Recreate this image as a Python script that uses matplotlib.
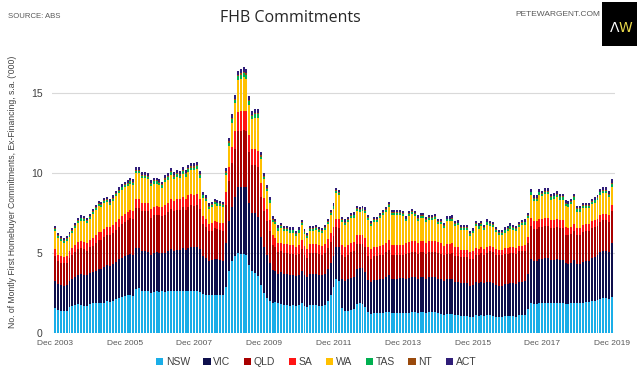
import numpy as np
import pandas as pd
import matplotlib
matplotlib.use("Agg")
import matplotlib.pyplot as plt
from matplotlib.patches import Patch

plt.rcParams['font.family'] = ['Liberation Sans', 'DejaVu Sans']

months = pd.period_range('2003-12', '2019-12', freq='M')
tick_labels = ["Dec 2003", "Dec 2005", "Dec 2007", "Dec 2009", "Dec 2011",
               "Dec 2013", "Dec 2015", "Dec 2017", "Dec 2019"]
series_names = ["NSW", "VIC", "QLD", "SA", "WA", "TAS", "NT", "ACT"]

NSW = [
1.55,1.45,1.4,1.4,1.4,1.65,1.7,1.75,1.8,1.75,1.7,1.7,1.8,
1.85,1.85,1.9,1.85,1.9,2.0,1.95,2.0,2.1,2.2,2.25,2.3,
2.35,2.4,2.3,2.75,2.8,2.6,2.6,2.6,2.5,2.55,2.6,2.55,2.6,
2.55,2.6,2.65,2.6,2.6,2.6,2.65,2.6,2.6,2.65,2.6,2.6,2.55,
2.45,2.4,2.35,2.35,2.4,2.4,2.35,2.35,
2.9,3.9,4.5,4.8,5.0,4.95,4.95,4.9,4.25,3.9,3.75,3.55,3.0,2.5,2.2,2.0,1.85,1.95,1.85,
1.8,1.75,1.75,1.7,1.75,1.7,1.75,1.85,1.7,1.65,1.75,1.75,1.75,1.7,1.7,1.75,2.0,2.4,2.9,3.35,3.25,
1.55,1.35,1.4,1.45,1.5,1.8,1.85,1.8,1.6,1.3,1.2,1.25,1.25,1.25,1.25,1.3,1.3,1.25,1.25,1.25,1.25,1.25,
1.25,1.25,1.3,1.3,1.25,1.3,1.3,1.25,1.3,1.3,1.3,1.25,1.2,1.15,1.2,1.2,1.2,1.1,1.1,1.05,1.05,1.05,1.0,1.0,1.1,
1.05,1.1,1.05,1.1,1.1,1.05,1.0,1.0,1.0,1.05,1.05,1.05,1.05,1.0,1.1,1.1,1.15,1.5,
1.85,1.8,1.8,1.85,1.85,1.9,1.9,1.85,1.85,1.85,1.85,1.85,1.8,1.8,1.85,1.9,1.85,1.85,1.9,1.95,1.95,2.0,2.0,2.05,2.15,2.2,2.2,2.15,2.25]

VIC = [
1.7,1.6,1.6,1.55,1.6,1.6,1.65,1.75,1.85,1.95,1.95,1.9,1.95,
1.95,2.0,2.1,2.15,2.2,2.25,2.25,2.3,2.35,2.4,2.45,2.5,
2.5,2.55,2.55,2.55,2.5,2.5,2.5,2.45,2.4,2.45,2.45,2.45,2.4,
2.45,2.5,2.6,2.55,2.6,2.6,2.65,2.6,2.7,2.75,2.75,2.8,2.7,
2.35,2.3,2.15,2.2,2.25,2.2,2.2,2.15,
2.7,3.1,3.4,3.7,4.1,4.15,4.2,4.2,3.9,3.6,3.75,3.7,3.0,2.85,2.7,2.4,2.1,1.9,1.85,
2.0,1.95,1.95,1.95,1.9,1.85,1.9,2.0,1.9,1.85,1.95,1.95,1.95,1.95,1.9,1.95,2.0,2.0,1.9,2.05,2.1,
1.85,1.9,1.95,2.0,2.0,2.2,2.2,2.25,2.2,2.0,2.0,2.05,2.05,2.1,2.15,2.2,2.3,2.15,2.15,2.15,2.2,2.2,
2.15,2.2,2.2,2.2,2.15,2.2,2.2,2.15,2.2,2.2,2.2,2.15,2.15,2.1,2.15,2.15,2.2,2.1,2.1,2.05,2.05,2.05,1.95,2.0,2.1,
2.05,2.1,2.05,2.1,2.1,2.1,2.0,1.95,1.95,2.0,2.0,2.05,2.05,2.05,2.1,2.1,2.1,2.2,
2.8,2.7,2.7,2.8,2.8,2.8,2.8,2.7,2.7,2.75,2.7,2.7,2.55,2.5,2.55,2.65,2.45,2.45,2.55,2.55,2.55,2.7,2.75,2.8,2.9,2.95,2.95,2.9,3.35]

QLD = [
1.55,1.45,1.4,1.4,1.4,1.45,1.5,1.55,1.6,1.6,1.6,1.55,1.6,
1.65,1.75,1.8,1.8,1.9,1.9,1.9,1.95,2.0,2.05,2.1,2.15,
2.2,2.25,2.3,2.5,2.5,2.5,2.5,2.55,2.3,2.35,2.35,2.35,2.3,
2.4,2.45,2.5,2.45,2.5,2.5,2.55,2.5,2.6,2.6,2.6,2.6,2.5,
2.0,1.95,1.85,1.85,1.9,1.9,1.9,1.9,
2.4,2.5,2.75,3.0,3.5,3.55,3.55,3.55,3.15,3.0,3.0,3.1,2.5,2.3,2.1,1.95,1.55,1.5,1.35,
1.3,1.3,1.3,1.3,1.3,1.3,1.3,1.4,1.3,1.2,1.3,1.3,1.3,1.3,1.3,1.3,1.3,1.3,1.25,1.2,1.2,
1.5,1.5,1.55,1.6,1.6,1.55,1.5,1.5,1.55,1.5,1.45,1.5,1.5,1.5,1.5,1.55,1.6,1.5,1.5,1.5,1.45,1.45,
1.55,1.55,1.55,1.55,1.55,1.55,1.55,1.55,1.55,1.55,1.55,1.6,1.6,1.6,1.6,1.6,1.6,1.6,1.6,1.65,1.65,1.65,1.65,1.65,1.65,
1.8,1.8,1.8,1.8,1.9,1.9,1.9,1.9,1.9,1.9,1.9,1.9,1.9,1.9,1.9,1.9,1.9,1.95,
2.05,2.0,2.0,2.0,2.0,2.0,2.0,2.0,2.0,2.0,2.0,2.0,1.8,1.8,1.8,1.8,1.8,1.8,1.85,1.85,1.85,1.85,1.85,1.85,1.9,1.9,1.9,1.9,2.0]

SA = [
0.45,0.4,0.4,0.4,0.4,0.4,0.45,0.45,0.45,0.45,0.45,0.45,0.45,
0.5,0.5,0.5,0.5,0.5,0.5,0.5,0.5,0.5,0.5,0.5,0.5,
0.5,0.5,0.5,0.55,0.55,0.55,0.55,0.55,0.55,0.55,0.55,0.55,0.55,
0.6,0.6,0.65,0.65,0.65,0.65,0.65,0.65,0.7,0.7,0.7,0.7,0.65,
0.5,0.5,0.45,0.45,0.45,0.45,0.45,0.45,
0.8,0.9,1.0,1.1,1.2,1.2,1.2,1.2,1.05,1.0,1.0,1.05,0.85,0.8,0.75,0.7,0.6,0.6,0.55,
0.55,0.55,0.55,0.55,0.55,0.55,0.55,0.55,0.55,0.55,0.55,0.55,0.55,0.55,0.55,0.55,0.55,0.55,0.55,0.55,0.55,
0.6,0.6,0.6,0.6,0.6,0.6,0.6,0.6,0.6,0.6,0.6,0.6,0.6,0.6,0.6,0.6,0.6,0.6,0.6,0.6,0.6,0.6,
0.7,0.7,0.7,0.7,0.7,0.7,0.7,0.7,0.7,0.7,0.7,0.7,0.7,0.6,0.6,0.6,0.6,0.6,0.6,0.45,0.45,0.45,0.45,0.45,0.45,
0.35,0.35,0.35,0.35,0.35,0.35,0.35,0.35,0.35,0.35,0.35,0.35,0.35,0.35,0.35,0.35,0.35,0.35,
0.5,0.5,0.5,0.5,0.5,0.5,0.5,0.5,0.5,0.5,0.5,0.5,0.45,0.45,0.45,0.45,0.45,0.45,0.45,0.45,0.45,0.45,0.45,0.45,0.4,0.4,0.4,0.4,0.4]

WA = [
1.13,1.03,0.93,0.88,0.93,0.88,0.93,1.08,1.18,1.28,1.28,1.28,1.33,
1.46,1.56,1.61,1.56,1.61,1.51,1.41,1.51,1.61,1.61,1.66,1.66,
1.62,1.62,1.57,1.62,1.62,1.52,1.52,1.47,1.42,1.42,1.37,1.32,1.22,
1.41,1.39,1.46,1.35,1.41,1.31,1.46,1.41,1.46,1.46,1.51,1.53,1.31,
1.16,1.11,0.96,1.01,1.06,1.01,1.01,1.01,
1.05,1.3,1.5,1.75,2.0,2.05,2.1,2.05,1.9,1.85,1.95,2.05,1.5,1.15,1.1,1.1,0.85,0.85,0.8,
0.93,0.83,0.83,0.78,0.78,0.68,0.78,0.93,0.73,0.68,0.83,0.83,0.88,0.83,0.78,0.88,0.98,1.13,1.18,1.58,1.53,
1.41,1.41,1.41,1.51,1.51,1.46,1.41,1.46,1.56,1.66,1.41,1.51,1.51,1.71,1.86,1.91,2.06,1.86,1.86,1.86,1.86,1.81,
1.32,1.62,1.67,1.57,1.37,1.42,1.42,1.27,1.32,1.32,1.37,1.12,1.17,1.12,1.42,1.42,1.42,1.27,1.32,1.22,1.22,1.22,1.02,1.12,1.37,
1.28,1.33,1.18,1.43,1.23,1.23,1.08,0.93,0.93,0.98,1.08,1.18,1.08,1.08,1.18,1.28,1.28,1.18,
1.44,1.24,1.24,1.49,1.39,1.49,1.49,1.29,1.34,1.39,1.29,1.29,1.34,1.34,1.39,1.54,1.04,1.04,1.04,0.99,0.99,1.04,1.09,1.14,1.29,1.29,1.29,1.14,1.15]

TAS = [
0.13,0.13,0.13,0.13,0.13,0.13,0.13,0.13,0.13,0.13,0.13,0.13,0.13,
0.14,0.14,0.14,0.14,0.14,0.14,0.14,0.14,0.14,0.14,0.14,0.14,
0.16,0.16,0.16,0.16,0.16,0.16,0.16,0.16,0.16,0.16,0.16,0.16,0.16,
0.18,0.18,0.18,0.18,0.18,0.18,0.18,0.18,0.18,0.18,0.18,0.18,0.18,
0.14,0.14,0.14,0.14,0.14,0.14,0.14,0.14,
0.18,0.2,0.23,0.23,0.25,0.25,0.25,0.25,0.23,0.23,0.23,0.23,0.18,0.16,0.16,0.14,0.14,0.14,0.14,
0.13,0.13,0.13,0.13,0.13,0.13,0.13,0.13,0.13,0.13,0.13,0.13,0.13,0.13,0.13,0.13,0.13,0.13,0.13,0.13,0.13,
0.14,0.14,0.14,0.14,0.14,0.14,0.14,0.14,0.14,0.14,0.14,0.14,0.14,0.14,0.14,0.14,0.14,0.14,0.14,0.14,0.14,0.14,
0.13,0.13,0.13,0.13,0.13,0.13,0.13,0.13,0.13,0.13,0.13,0.13,0.13,0.13,0.13,0.13,0.13,0.13,0.13,0.13,0.13,0.13,0.13,0.13,0.13,
0.13,0.13,0.13,0.13,0.13,0.13,0.13,0.13,0.13,0.13,0.13,0.13,0.13,0.13,0.13,0.13,0.13,0.13,
0.15,0.15,0.15,0.15,0.15,0.15,0.15,0.15,0.15,0.15,0.15,0.15,0.15,0.15,0.15,0.15,0.15,0.15,0.15,0.15,0.15,0.15,0.15,0.15,0.15,0.15,0.15,0.15,0.18]

NT = [
0.05,0.05,0.05,0.05,0.05,0.05,0.05,0.05,0.05,0.05,0.05,0.05,0.05,
0.05,0.05,0.05,0.05,0.05,0.05,0.05,0.05,0.05,0.05,0.05,0.05,
0.06,0.06,0.06,0.06,0.06,0.06,0.06,0.06,0.06,0.06,0.06,0.06,0.06,
0.07,0.07,0.07,0.07,0.07,0.07,0.07,0.07,0.07,0.07,0.07,0.07,0.07,
0.05,0.05,0.05,0.05,0.05,0.05,0.05,0.05,
0.07,0.07,0.07,0.07,0.08,0.08,0.08,0.08,0.07,0.07,0.07,0.07,0.07,0.06,0.06,0.05,0.05,0.05,0.05,
0.05,0.05,0.05,0.05,0.05,0.05,0.05,0.05,0.05,0.05,0.05,0.05,0.05,0.05,0.05,0.05,0.05,0.05,0.05,0.05,0.05,
0.05,0.05,0.05,0.05,0.05,0.05,0.05,0.05,0.05,0.05,0.05,0.05,0.05,0.05,0.05,0.05,0.05,0.05,0.05,0.05,0.05,0.05,
0.05,0.05,0.05,0.05,0.05,0.05,0.05,0.05,0.05,0.05,0.05,0.05,0.05,0.05,0.05,0.05,0.05,0.05,0.05,0.05,0.05,0.05,0.05,0.05,0.05,
0.05,0.05,0.05,0.05,0.05,0.05,0.05,0.05,0.05,0.05,0.05,0.05,0.05,0.05,0.05,0.05,0.05,0.05,
0.05,0.05,0.05,0.05,0.05,0.05,0.05,0.05,0.05,0.05,0.05,0.05,0.05,0.05,0.05,0.05,0.05,0.05,0.05,0.05,0.05,0.05,0.05,0.05,0.05,0.05,0.05,0.05,0.06]

ACT = [
0.14,0.14,0.14,0.14,0.14,0.14,0.14,0.14,0.14,0.14,0.14,0.14,0.14,
0.15,0.15,0.15,0.15,0.15,0.15,0.15,0.15,0.15,0.15,0.15,0.15,
0.16,0.16,0.16,0.16,0.16,0.16,0.16,0.16,0.16,0.16,0.16,0.16,0.16,
0.19,0.19,0.19,0.19,0.19,0.19,0.19,0.19,0.19,0.19,0.19,0.19,0.19,
0.15,0.15,0.15,0.15,0.15,0.15,0.15,0.15,
0.2,0.23,0.25,0.25,0.27,0.27,0.27,0.27,0.25,0.25,0.25,0.25,0.2,0.18,0.18,0.16,0.16,0.16,0.16,
0.14,0.14,0.14,0.14,0.14,0.14,0.14,0.14,0.14,0.14,0.14,0.14,0.14,0.14,0.14,0.14,0.14,0.14,0.14,0.14,0.14,
0.15,0.15,0.15,0.15,0.15,0.15,0.15,0.15,0.15,0.15,0.15,0.15,0.15,0.15,0.15,0.15,0.15,0.15,0.15,0.15,0.15,0.15,
0.15,0.15,0.15,0.15,0.15,0.15,0.15,0.15,0.15,0.15,0.15,0.15,0.15,0.15,0.15,0.15,0.15,0.15,0.15,0.15,0.15,0.15,0.15,0.15,0.15,
0.14,0.14,0.14,0.14,0.14,0.14,0.14,0.14,0.14,0.14,0.14,0.14,0.14,0.14,0.14,0.14,0.14,0.14,
0.16,0.16,0.16,0.16,0.16,0.16,0.16,0.16,0.16,0.16,0.16,0.16,0.16,0.16,0.16,0.16,0.16,0.16,0.16,0.16,0.16,0.16,0.16,0.16,0.16,0.16,0.16,0.16,0.21]

colors = ["#1aaee8", "#0e0f4c", "#a80000", "#ff1414", "#ffc000",
          "#00b050", "#9a4a0c", "#2f1d78"]

series = [NSW, VIC, QLD, SA, WA, TAS, NT, ACT]
n = len(months)
x = np.arange(n)

W, H = 640, 376
fig = plt.figure(figsize=(W / 100, H / 100), dpi=100)
ax_left, ax_right = 52.1, 614.9
ax_bottom_px, ax_top_px = 333, 53
ax = fig.add_axes([ax_left / W, (H - ax_bottom_px) / H,
                   (ax_right - ax_left) / W, (ax_bottom_px - ax_top_px) / H])

bottom = np.zeros(n)
for name, vals, c in zip(series_names, series, colors):
    v = np.array(vals[:n], dtype=float)
    ax.bar(x[:len(v)], v, width=0.68, bottom=bottom[:len(v)], color=c,
           linewidth=0, zorder=2)
    bottom[:len(v)] += v

ax.set_xlim(-1, 193)
ax.set_ylim(0, 17.5)
ax.set_yticks([0, 5, 10, 15])
ax.set_yticklabels(["0", "5", "10", "15"])
ax.yaxis.grid(True, color="#d9d9d9", linewidth=0.8, zorder=0)
ax.set_axisbelow(True)
for s in ax.spines.values():
    s.set_visible(False)
ax.tick_params(axis="y", length=0, labelsize=7.5, labelcolor="#404040", pad=7)
ax.tick_params(axis="x", length=0, labelsize=6, labelcolor="#595959", pad=5)
ax.set_xticks(np.arange(0, n, 24))
ax.set_xticklabels(tick_labels)

fig.text(13 / W, 1 - 192 / H,
         "No. of Montly First Homebuyer Commitments, Ex-Financing, s.a. ('000)",
         rotation=90, ha="center", va="center", fontsize=6.2, color="#404040")

fig.text(290 / W, 1 - 18 / H, "FHB Commitments", ha="center", va="center",
         fontsize=11.5, color="#262626", family=["Open Sans", "DejaVu Sans"])
fig.text(8 / W, 1 - 16 / H, "SOURCE: ABS", ha="left", va="center",
         fontsize=5.6, color="#595959")
fig.text(600 / W, 1 - 14 / H, "PETEWARGENT.COM", ha="right", va="center",
         fontsize=6, color="#595959")

logo = fig.add_axes([602 / W, 1 - 46 / H, 35 / W, 44 / H])
logo.set_facecolor("black")
logo.set_xticks([]); logo.set_yticks([])
for s in logo.spines.values():
    s.set_visible(False)
logo.text(0.36, 0.42, "Λ", color="white", fontsize=10, ha="center", va="center",
          family=["DejaVu Sans"], transform=logo.transAxes)
logo.text(0.66, 0.42, "W", color="#e8d84a", fontsize=10, ha="center", va="center",
          family=["DejaVu Sans"], transform=logo.transAxes)

handles = [Patch(facecolor=c, edgecolor="none", label=nm)
           for nm, c in zip(series_names, colors)]
fig.legend(handles=handles, loc="center", bbox_to_anchor=(316 / W, 1 - 362 / H),
           ncol=8, frameon=False, fontsize=7.5, handlelength=0.7,
           handleheight=0.7, handletextpad=0.25, columnspacing=1.3,
           labelcolor="#404040")

fig.savefig("out.png", dpi=100)
